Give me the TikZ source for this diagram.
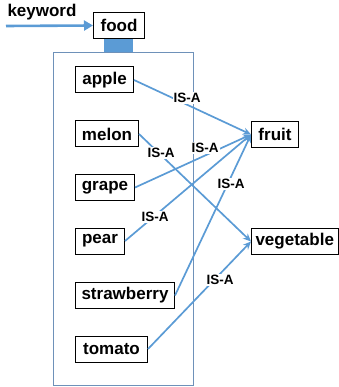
\documentclass[tikz,border=0pt]{standalone}
\usepackage{fontspec}
\setmainfont{Liberation Sans}
\usetikzlibrary{arrows.meta}
\definecolor{lblue}{RGB}{91,155,213}
\definecolor{cframe}{RGB}{110,145,185}
\begin{document}
\begin{tikzpicture}[x=1pt,y=-1pt,
  item/.style={draw=black,line width=1pt,fill=white,font=\bfseries\fontsize{17}{19}\selectfont,minimum height=26pt,inner xsep=2pt,inner ysep=0pt,anchor=west},
  isa/.style={fill=white,font=\bfseries\fontsize{13.5}{15}\selectfont,inner sep=1pt},
  rel/.style={draw=lblue,line width=1.7pt,-{Stealth[length=8pt,width=7pt]}}]
\useasboundingbox (0,0) rectangle (338,387);
% container
\draw[cframe,line width=0.9pt] (53,52) rectangle (193,385);
\fill[lblue] (104,37) rectangle (133,52);
% nodes
\node[item,minimum width=51pt] (food) at (93,25.5) {food};
\node[font=\bfseries\fontsize{17}{19}\selectfont,inner sep=0pt] (kw) at (42,12) {keyword};
\coordinate (kwstart) at (6,26);
\node[item,minimum width=58pt] (apple) at (75,80) {apple};
\node[item,minimum width=63pt] (melon) at (75,134) {melon};
\node[item,minimum width=59pt] (grape) at (75,187.5) {grape};
\node[item,minimum width=49pt] (pear) at (75,241) {pear};
\node[item,minimum width=99pt] (straw) at (75,295.5) {strawberry};
\node[item,minimum width=72pt] (tomato) at (75,349) {tomato};
\node[item,minimum width=47pt] (fruit) at (251,134.5) {fruit};
\node[item,minimum width=86.5pt] (veg) at (251,241.5) {vegetable};
% edges
\draw[draw=lblue,line width=2.6pt,-{Triangle[length=9pt,width=10pt]}] (kwstart) -- (food.west);
\draw[rel] (apple.east) -- (fruit.west);
\draw[rel] (melon.east) -- (veg.west);
\draw[rel] (grape.east) -- (fruit.west);
\draw[rel] (pear.east) -- (fruit.west);
\draw[rel] (straw.east) -- (fruit.west);
\draw[rel] (tomato.east) -- (veg.west);
% labels
\node[isa] (l1) at (187,98) {IS-A};
\node[isa] (l2) at (161,153) {IS-A};
\node[isa] (l3) at (205,148) {IS-A};
\node[isa] (l4) at (155,217) {IS-A};
\node[isa] (l5) at (231,184) {IS-A};
\node[isa] (l6) at (220,280) {IS-A};
\end{tikzpicture}
\end{document}
